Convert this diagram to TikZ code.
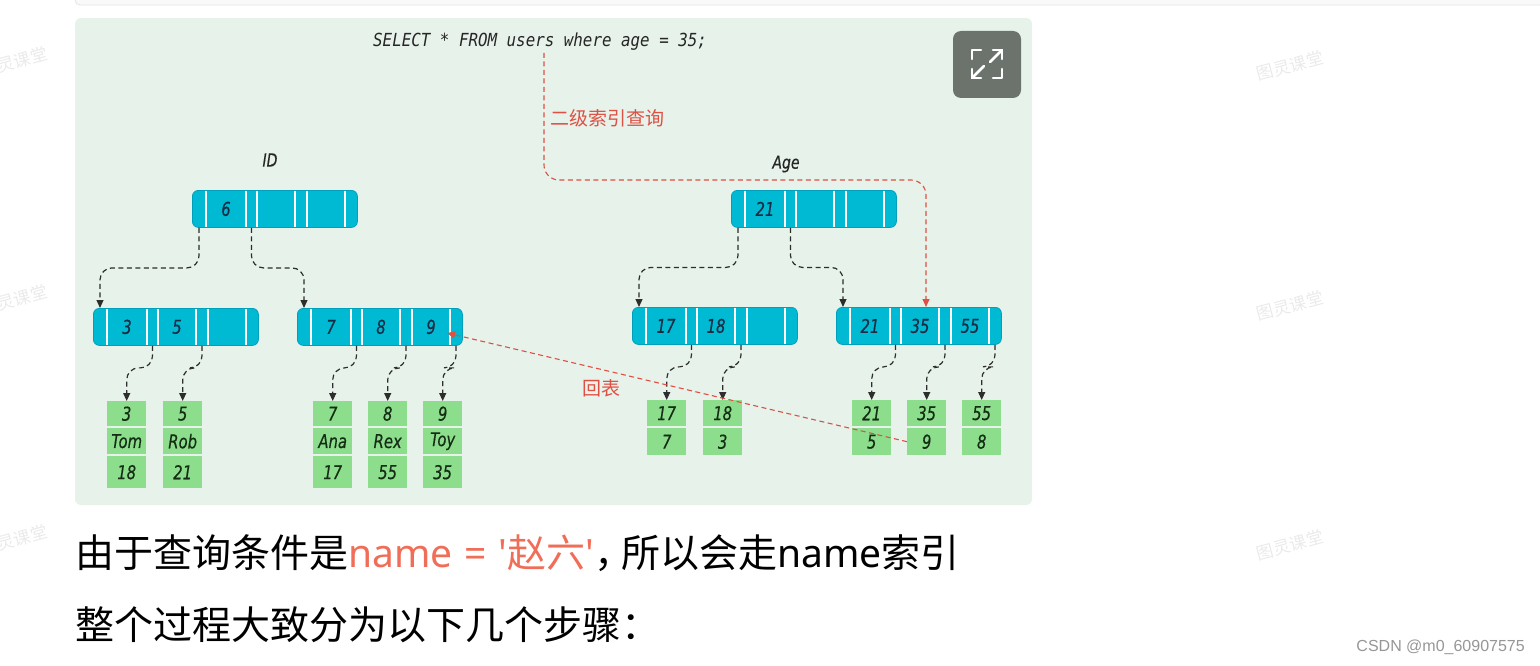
\documentclass[tikz,border=0pt]{standalone}
\usepackage{fontspec}
\usetikzlibrary{arrows.meta,calc}
\newfontfamily\nodefont{DejaVu Sans}[FakeStretch=0.78,FakeBold=0.4]
\newfontfamily\sqlfont{DejaVu Sans Mono}[FakeStretch=0.88]
\newfontfamily\cjk{Noto Sans CJK SC}
\newfontfamily\latinfont{Noto Sans}
\newfontfamily\libsans{Liberation Sans}
\definecolor{panel}{RGB}{231,242,234}
\definecolor{topbox}{RGB}{249,249,249}
\definecolor{topline}{RGB}{228,228,228}
\definecolor{cyanfill}{RGB}{0,186,212}
\definecolor{cyanline}{RGB}{0,160,188}
\definecolor{leaffill}{RGB}{140,222,140}
\definecolor{keyink}{RGB}{25,45,70}
\definecolor{leafink}{RGB}{20,45,20}
\definecolor{redink}{RGB}{222,80,68}
\definecolor{salmon}{RGB}{240,110,88}
\definecolor{icongray}{RGB}{108,115,108}
\definecolor{arrowgray}{RGB}{45,45,45}
\definecolor{wmgray}{RGB}{234,234,234}
\definecolor{csdngray}{RGB}{150,150,150}
\tikzset{
  idx/.style={draw=cyanline, fill=cyanfill, rounded corners=6pt, minimum width=165pt,
    minimum height=37pt, inner sep=0pt, anchor=north west, line width=0.8pt},
  divider/.style={draw=white, line width=1.8pt},
  keytxt/.style={font=\nodefont\itshape\fontsize{19}{22}\selectfont, text=keyink, inner sep=0pt},
  leaf/.style={fill=leaffill, minimum width=39pt, inner sep=0pt, anchor=north west,
    font=\nodefont\itshape\fontsize{19}{22}\selectfont, text=leafink},
  ptr/.style={draw=arrowgray, line width=1.2pt, dash pattern=on 5pt off 3.5pt,
    -{Triangle[length=8pt,width=7pt]}, rounded corners=12pt},
  redptr/.style={draw=redink, line width=1.1pt, dash pattern=on 5pt off 3.5pt,
    -{Triangle[length=8pt,width=7pt]}},
  elbow/.style={to path={let \p1=(\tikztostart), \p2=(\tikztotarget),
    \p3=($(\tikztostart)!#1!(\tikztotarget)$) in -- (\x1,\y3) -- (\x2,\y3) -- (\tikztotarget)}},
  redlabel/.style={font=\cjk\fontsize{19}{22}\selectfont, text=redink, inner sep=0pt},
  treelabel/.style={font=\nodefont\itshape\fontsize{18}{21}\selectfont, text=black!85, inner sep=0pt},
  wm/.style={font=\cjk\fontsize{17}{20}\selectfont, text=wmgray, inner sep=0pt, rotate=15},
  bigtext/.style={font=\cjk\fontsize{39}{45}\selectfont, anchor=base west, inner sep=0pt}
}
\newcommand\idxnode[6]{%
  \node[idx] (#1) at (#2,#3) {};
  \foreach \d in {14,54,65,103,115,153}{\draw[divider] ([xshift=\d pt,yshift=-0.6pt]#1.north west) -- ([xshift=\d pt,yshift=0.6pt]#1.south west);}
  \node[keytxt] (#1-k1) at ([xshift=34pt]#1.west) {#4};
  \node[keytxt] (#1-k2) at ([xshift=84pt]#1.west) {#5};
  \node[keytxt] (#1-k3) at ([xshift=134pt]#1.west) {#6};
  \foreach \i/\p in {0/7,1/59.5,2/109,3/159}{%
    \coordinate (#1-p\i) at ([xshift=\p pt]#1.south west);
    \coordinate (#1-t\i) at ([xshift=\p pt]#1.north west);}
}
\newcommand\leafcell[5]{\node[leaf, minimum height=#4pt] (#1) at (#2,#3) {#5};}
\begin{document}
\begin{tikzpicture}[x=1pt,y=-1pt]
\useasboundingbox (0,0) rectangle (1540,666);
\clip (0,0) rectangle (1540,666);
% top strip of previous element
\draw[fill=topbox, draw=topline, line width=0.8pt, rounded corners=5pt] (75,-20) rectangle (1580,5);
% watermarks
\node[wm] (wm1) at (1290,66) {图灵课堂};
\node[wm] (wm2) at (1290,306) {图灵课堂};
\node[wm] (wm3) at (1290,545) {图灵课堂};
\node[wm] (wm4) at (14,62) {图灵课堂};
\node[wm] (wm5) at (14,300) {图灵课堂};
\node[wm] (wm6) at (14,540) {图灵课堂};
% panel
\fill[panel, rounded corners=6pt] (75,18) rectangle (1032,505);
% expand icon
\fill[icongray, rounded corners=8pt] (953,31) rectangle (1021,98);
\begin{scope}[line width=2.6pt, line cap=round, line join=round]
\draw[white] (972,59) -- (972,50) -- (981,50);
\draw[white] (1002,69) -- (1002,78) -- (993,78);
\draw[white] (993,50) -- (1002,50) -- (1002,59);
\draw[white] (1002,50) -- (990,62);
\draw[white] (972,69) -- (972,78) -- (981,78);
\draw[white] (972,78) -- (984,66);
\end{scope}
% query
\node[font=\sqlfont\itshape\fontsize{18}{21}\selectfont, anchor=west, inner sep=0pt, text=black!85] (sql) at (373,42) {SELECT * FROM users where age = 35;};
\coordinate (qstart) at (544,53);
% tree labels
\node[treelabel] (idlabel) at (270,160) {ID};
\node[treelabel] (agelabel) at (786,164) {Age};
% index nodes
\idxnode{idroot}{192}{190}{6}{}{}
\idxnode{idl}{93}{308}{3}{5}{}
\idxnode{idr}{297}{308}{7}{8}{9}
\idxnode{ageroot}{731}{190}{21}{}{}
\idxnode{agel}{632}{307}{17}{18}{}
\idxnode{ager}{836}{307}{21}{35}{55}
% ID leaves
\leafcell{la1}{107}{401}{25}{3}
\leafcell{la1b}{107}{428}{26}{Tom}
\leafcell{la1c}{107}{456}{32}{18}
\leafcell{la2}{163}{401}{25}{5}
\leafcell{la2b}{163}{428}{26}{Rob}
\leafcell{la2c}{163}{456}{32}{21}
\leafcell{lb1}{313}{401}{25}{7}
\leafcell{lb1b}{313}{428}{26}{Ana}
\leafcell{lb1c}{313}{456}{32}{17}
\leafcell{lb2}{368}{401}{25}{8}
\leafcell{lb2b}{368}{428}{26}{Rex}
\leafcell{lb2c}{368}{456}{32}{55}
\leafcell{lb3}{423}{401}{25}{9}
\leafcell{lb3b}{423}{428}{26}{Toy}
\leafcell{lb3c}{423}{456}{32}{35}
% Age leaves
\leafcell{lc1}{647}{400}{26}{17}
\leafcell{lc1b}{647}{428}{27}{7}
\leafcell{lc2}{703}{400}{26}{18}
\leafcell{lc2b}{703}{428}{27}{3}
\leafcell{ld1}{852}{400}{26}{21}
\leafcell{ld1b}{852}{428}{27}{5}
\leafcell{ld2}{907}{400}{26}{35}
\leafcell{ld2b}{907}{428}{27}{9}
\leafcell{ld3}{962}{400}{26}{55}
\leafcell{ld3b}{962}{428}{27}{8}
% tree arrows
\draw[ptr] (idroot-p0) to[elbow=0.5] (idl-t0);
\draw[ptr] (idroot-p1) to[elbow=0.5] (idr-t0);
\draw[ptr] (ageroot-p0) to[elbow=0.5] (agel-t0);
\draw[ptr] (ageroot-p1) to[elbow=0.5] (ager-t0);
\draw[ptr] (idl-p1) to[elbow=0.4] (la1.north);
\draw[ptr] (idl-p2) to[elbow=0.4] (la2.north);
\draw[ptr] (idr-p1) to[elbow=0.4] (lb1.north);
\draw[ptr] (idr-p2) to[elbow=0.4] (lb2.north);
\draw[ptr] (idr-p3) to[elbow=0.4] (lb3.north);
\draw[ptr] (agel-p1) to[elbow=0.4] (lc1.north);
\draw[ptr] (agel-p2) to[elbow=0.4] (lc2.north);
\draw[ptr] (ager-p1) to[elbow=0.4] (ld1.north);
\draw[ptr] (ager-p2) to[elbow=0.4] (ld2.north);
\draw[ptr] (ager-p3) to[elbow=0.4] (ld3.north);
% red paths
\coordinate (ager-red) at ([xshift=90pt]ager.north west);
\draw[redptr, rounded corners=15pt] (qstart) |- ([yshift=127pt]ager-red) -- (ager-red);
\node[redlabel, anchor=west] (lbl1) at (550,118) {二级索引查询};
\coordinate (idr-back) at ([xshift=150pt,yshift=-25pt]idr.north west);
\draw[redptr] (ld2b.west) -- (idr-back);
\node[redlabel] (lbl2) at (601,388) {回表};
% text below
\node[bigtext] (line1) at (75,567) {由于查询条件是\textcolor{salmon}{{\latinfont name\hspace{12pt}=\hspace{12pt}\char"0027}赵六{\latinfont\char"0027}}，\kern-12pt 所以会走{\latinfont name}索引};
\node[bigtext] (line2) at (75,639) {整个过程大致分为以下几个步骤：};
\node[font=\libsans\fontsize{16}{19}\selectfont, text=csdngray, anchor=east, inner sep=0pt] (csdn) at (1525,647) {CSDN @m0\_60907575};
\end{tikzpicture}
\end{document}
